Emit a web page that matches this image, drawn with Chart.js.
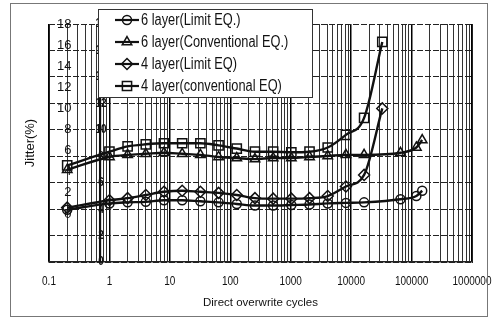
<!DOCTYPE html>
<html>
<head>
<meta charset="utf-8">
<script src="https://cdn.jsdelivr.net/npm/chart.js@4.4.1/dist/chart.umd.min.js"></script>
<style>
    html, body { margin: 0; padding: 0; background: #fff; }
    #wrap { position: relative; width: 492px; height: 320px; }
    #frame {
        position: absolute; left: 10px; top: 3px; width: 478px; height: 314px;
        border: 1px solid #777; box-sizing: border-box; pointer-events: none;
    }
</style>
</head>
<body>
<div id="wrap">
    <canvas id="chart" width="492" height="320"></canvas>
    <div id="frame"></div>
</div>
<script>
// cycles (x) for each group of layers
const cycles6 = [0.2, 1, 2, 4, 8, 16, 32, 64, 128, 256, 512, 1024, 2048, 4096, 8192, 16384, 65536, 120000, 150000];
const cycles4 = [0.2, 1, 2, 4, 8, 16, 32, 64, 128, 256, 512, 1024, 2048, 4096, 8192, 16384, 32768];

// jitter (%)
const limit6 = [0.4, 1.0, 1.1, 1.15, 1.3, 1.3, 1.2, 1.1, 0.95, 0.8, 0.8, 0.85, 0.9, 1.0, 1.05, 1.1, 1.4, 1.7, 2.2];
const conv6  = [4.2, 5.4, 5.6, 5.7, 5.8, 5.7, 5.6, 5.4, 5.3, 5.2, 5.3, 5.3, 5.4, 5.5, 5.6, 5.6, 5.8, 6.3, 7.0];
const limit4 = [0.6, 1.3, 1.5, 1.8, 2.1, 2.2, 2.1, 2.0, 1.8, 1.5, 1.45, 1.45, 1.5, 1.7, 2.6, 3.7, 10.0];
const conv4  = [4.6, 5.9, 6.4, 6.6, 6.7, 6.7, 6.7, 6.5, 6.2, 5.9, 5.9, 5.85, 5.9, 6.3, 7.5, 9.1, 16.3];

const seriesNames = ['6 layer(Limit EQ.)', '6 layer(Conventional EQ.)', '4 layer(Limit EQ)', '4 layer(conventional EQ)'];
const xTickLabels = ['0.1', '1', '10', '100', '1000', '10000', '100000', '1000000'];
const yTicks = [0, 2, 4, 6, 8, 10, 12, 14, 16, 18];

const FONT = "'Liberation Sans', Arial, sans-serif";
const INK = '#111';
const SQUEEZE = 0.8; // the scanned lettering is a narrow face

// 1..9 x 10^k grid for the log axis
function logTicks() {
    const ticks = [];
    for (let e = -1; e < 6; e++) {
        for (let s = 1; s < 10; s++) {
            ticks.push({ value: +(s * Math.pow(10, e)).toPrecision(3), major: s === 1 });
        }
    }
    ticks.push({ value: 1000000, major: true });
    return ticks;
}

function narrowText(ctx, text, x, y, align) {
    const w = ctx.measureText(text).width * SQUEEZE;
    let left = x;
    if (align === 'center') left = x - w / 2;
    if (align === 'right') left = x - w;
    ctx.save();
    ctx.translate(left, y);
    ctx.scale(SQUEEZE, 1);
    ctx.textAlign = 'left';
    ctx.fillText(text, 0, 0);
    ctx.restore();
}

function makeSet(label, xs, ys, style, radius) {
    return {
        label: label,
        data: xs.map((x, i) => ({ x: x, y: ys[i] })),
        yAxisID: 'y',
        borderColor: INK,
        borderWidth: 2.4,
        pointStyle: style,
        pointRadius: radius,
        pointBorderWidth: 1.5,
        pointBorderColor: INK,
        pointBackgroundColor: 'rgba(0,0,0,0)',
        cubicInterpolationMode: 'monotone',
        fill: false
    };
}

// decade labels under the log axis, in a narrow face
const decadeLabels = {
    id: 'decadeLabels',
    afterDraw(chart) {
        const { ctx, scales, chartArea } = chart;
        ctx.save();
        ctx.fillStyle = INK;
        ctx.font = '12.5px ' + FONT;
        ctx.textBaseline = 'middle';
        xTickLabels.forEach(t => {
            narrowText(ctx, t, scales.x.getPixelForValue(Number(t)), chartArea.bottom + 20, 'center');
        });
        ctx.restore();
    }
};

// second column of axis numbers printed inside the plot, plus its heavy rule
const innerAxis = {
    id: 'innerAxis',
    beforeDatasetsDraw(chart) {
        const { ctx, chartArea, scales } = chart;
        const x = scales.x.getPixelForValue(0.7);
        ctx.save();
        ctx.strokeStyle = INK;
        ctx.lineWidth = 2.2;
        ctx.beginPath();
        ctx.moveTo(x, chartArea.top);
        ctx.lineTo(x, chartArea.bottom);
        ctx.stroke();
        ctx.restore();
    },
    afterDatasetsDraw(chart) {
        const { ctx, scales } = chart;
        const x = scales.x.getPixelForValue(0.7);
        ctx.save();
        ctx.fillStyle = INK;
        ctx.font = 'bold 12.5px ' + FONT;
        ctx.textBaseline = 'middle';
        yTicks.forEach(v => narrowText(ctx, String(v), x + 1, scales.y2.getPixelForValue(v), 'center'));
        ctx.restore();
    }
};

// boxed legend in the upper left of the plot
const boxLegend = {
    id: 'boxLegend',
    afterDraw(chart) {
        const ctx = chart.ctx;
        const box = { left: 98, top: 9, width: 214, height: 88 };
        ctx.save();
        ctx.fillStyle = '#fff';
        ctx.fillRect(box.left, box.top, box.width, box.height);
        ctx.strokeStyle = '#333';
        ctx.lineWidth = 1;
        ctx.strokeRect(box.left + 0.5, box.top + 0.5, box.width, box.height);
        chart.data.datasets.forEach((ds, i) => {
            const y = box.top + 11 + i * 22;
            ctx.strokeStyle = INK;
            ctx.lineWidth = 2.2;
            ctx.beginPath();
            ctx.moveTo(115, y);
            ctx.lineTo(139, y);
            ctx.stroke();
            ctx.fillStyle = 'rgba(0,0,0,0)';
            ctx.lineWidth = ds.pointBorderWidth;
            Chart.helpers.drawPoint(ctx, {
                pointStyle: ds.pointStyle, radius: ds.pointRadius, borderWidth: ds.pointBorderWidth, rotation: 0
            }, 127, y);
            ctx.fillStyle = INK;
            ctx.font = '16px ' + FONT;
            ctx.textBaseline = 'middle';
            narrowText(ctx, ds.label, 141, y + 1, 'left');
        });
        ctx.restore();
    }
};

new Chart(document.getElementById('chart'), {
    type: 'line',
    data: {
        datasets: [
            makeSet(seriesNames[0], cycles6, limit6, 'circle', 4.5),
            makeSet(seriesNames[1], cycles6, conv6, 'triangle', 5.5),
            makeSet(seriesNames[2], cycles4, limit4, 'rectRot', 5.5),
            makeSet(seriesNames[3], cycles4, conv4, 'rect', 6.5)
        ]
    },
    options: {
        responsive: false,
        animation: false,
        layout: { padding: { top: 24, left: 0, right: 0, bottom: 0 } },
        plugins: {
            legend: { display: false },
            tooltip: { enabled: false }
        },
        scales: {
            x: {
                type: 'logarithmic',
                min: 0.1,
                max: 1000000,
                afterBuildTicks: axis => { axis.ticks = logTicks(); },
                afterFit: axis => { axis.height = 58; },
                ticks: { display: false, autoSkip: false },
                grid: {
                    drawTicks: false,
                    color: ctx => (ctx.tick && ctx.tick.major ? '#000' : '#333'),
                    lineWidth: ctx => (ctx.tick && ctx.tick.major ? 1.5 : 1)
                },
                border: { color: '#222', width: 1.5 },
                title: {
                    display: true,
                    text: 'Direct overwrite cycles',
                    color: INK,
                    font: { family: FONT, size: 11.5 },
                    padding: { top: 0, bottom: 10 }
                }
            },
            y: {
                position: 'left',
                min: -4.55,
                max: 18,
                afterBuildTicks: axis => { axis.ticks = yTicks.map(v => ({ value: v })); },
                afterFit: axis => { axis.width = 49; },
                ticks: {
                    mirror: true,
                    crossAlign: 'far',
                    padding: 8,
                    color: INK,
                    font: { family: FONT, size: 13 }
                },
                grid: { display: false, drawTicks: false },
                border: { display: true, color: '#222', width: 1 },
                title: {
                    display: true,
                    text: 'Jitter(%)',
                    color: INK,
                    font: { family: FONT, size: 13 },
                    padding: { top: 23, bottom: 0 }
                }
            },
            y2: {
                position: 'right',
                min: 0,
                max: 18,
                afterBuildTicks: axis => { axis.ticks = yTicks.map(v => ({ value: v })); },
                afterFit: axis => { axis.width = 20; },
                ticks: { display: false },
                grid: { drawTicks: false, color: '#222', lineWidth: 1 },
                border: { display: true, color: '#222', width: 1, dash: [6, 2] }
            }
        }
    },
    plugins: [innerAxis, decadeLabels, boxLegend]
});
</script>
</body>
</html>
